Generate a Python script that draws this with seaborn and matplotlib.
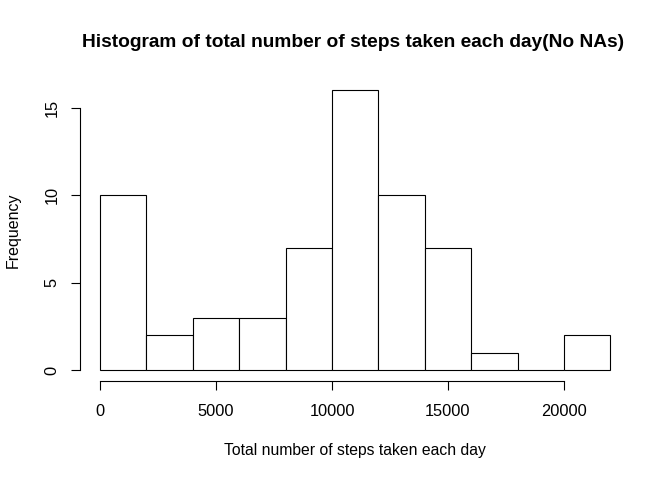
import numpy as np
import seaborn as sns
import matplotlib.pyplot as plt

# histogram bins (steps per day) and counts
bin_edges = [0, 2000, 4000, 6000, 8000, 10000, 12000, 14000, 16000, 18000, 20000, 22000]
counts = [10, 2, 3, 3, 7, 16, 10, 7, 1, 0, 2]
x_ticks = [0, 5000, 10000, 15000, 20000]
y_ticks = [0, 5, 10, 15]

title = "Histogram of total number of steps taken each day(No NAs)"
x_label = "Total number of steps taken each day"
y_label = "Frequency"

sns.set_style("white")
plt.rcParams['font.family'] = ['Liberation Sans', 'DejaVu Sans']
plt.rcParams['text.color'] = 'black'

W, H = 672, 480
fig = plt.figure(figsize=(W / 100, H / 100), dpi=100)
left, right, top, bottom = 79.6, 630.8, 79.3, 381.2
ax = fig.add_axes([left / W, 1 - bottom / H, (right - left) / W, (bottom - top) / H])

centers = (np.array(bin_edges[:-1]) + np.array(bin_edges[1:])) / 2
sns.histplot(x=centers, weights=counts, bins=bin_edges, ax=ax,
             color="white", edgecolor="black", linewidth=0.8, alpha=1)

span = bin_edges[-1] - bin_edges[0]
ax.set_xlim(bin_edges[0] - 0.04 * span, bin_edges[-1] + 0.04 * span)
ymax = max(counts)
ax.set_ylim(-0.04 * ymax, ymax * 1.04)

ax.set_xticks(x_ticks)
ax.set_xticklabels([str(t) for t in x_ticks])
ax.set_yticks(y_ticks)
ax.set_yticklabels([str(t) for t in y_ticks], rotation=90, va="center")
ax.set_xlabel("")
ax.set_ylabel("")

for s in ["top", "right"]:
    ax.spines[s].set_visible(False)
for s in ["left", "bottom"]:
    ax.spines[s].set_linewidth(0.8)
    ax.spines[s].set_color("black")
ax.spines["bottom"].set_bounds(x_ticks[0], x_ticks[-1])
ax.spines["left"].set_bounds(y_ticks[0], y_ticks[-1])
ax.tick_params(axis="both", direction="out", length=6.5, width=0.8,
               color="black", labelsize=11.8, labelcolor="black")
ax.tick_params(axis="x", pad=10, bottom=True)
ax.tick_params(axis="y", pad=8, left=True)

fig.text(353.5 / W, 1 - 46.7 / H, title, ha="center", va="baseline",
         fontsize=13.8, fontweight="bold")
fig.text((left + right) / 2 / W, 1 - 455 / H, x_label, ha="center", va="baseline",
         fontsize=11.3)
fig.text(13.5 / W, 1 - (top + bottom) / 2 / H, y_label, ha="center", va="center",
         rotation=90, fontsize=11.5)

fig.savefig("out.png", dpi=100)
